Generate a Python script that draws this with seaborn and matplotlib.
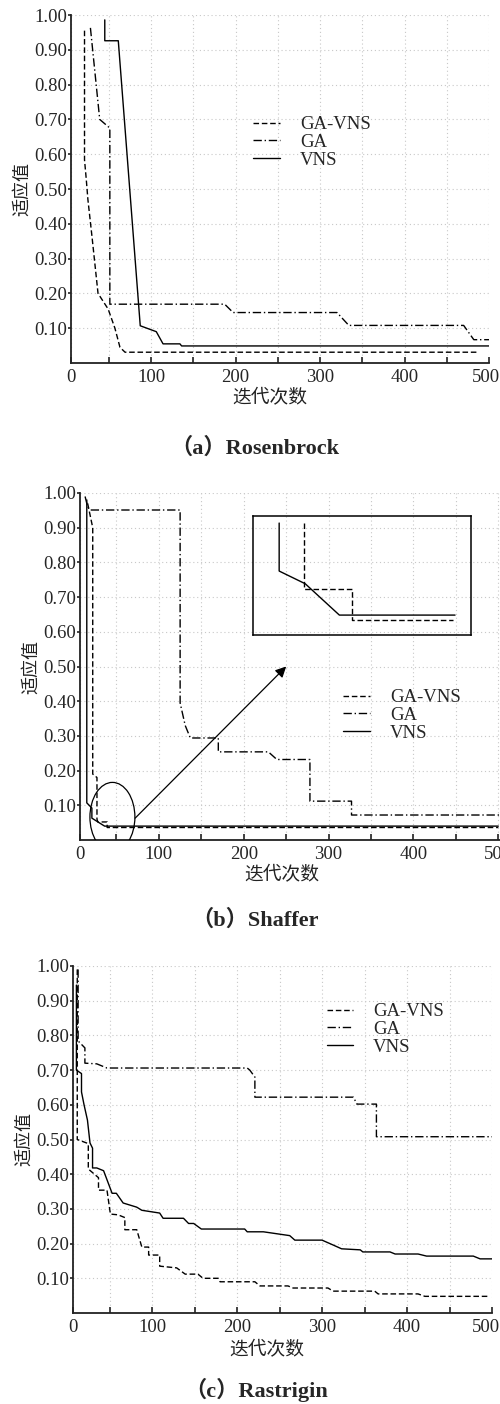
import numpy as np
import pandas as pd
import matplotlib
matplotlib.use("Agg")
import matplotlib.pyplot as plt
import matplotlib.transforms as mtransforms
from matplotlib.patches import Ellipse
import seaborn as sns

# ---------------- data ----------------
series_names = ["GA-VNS", "GA", "VNS"]
ytick_vals = [0.1, 0.2, 0.3, 0.4, 0.5, 0.6, 0.7, 0.8, 0.9, 1.0]
xtick_vals = [50, 100, 150, 200, 250, 300, 350, 400, 450, 500]
ylabel_text = "适应值"
xlabel_text = "迭代次数"
captions = ["（a）Rosenbrock", "（b）Shaffer", "（c）Rastrigin"]

# (a) Rosenbrock
a_gavns_x = [21, 21, 23, 25, 30, 37, 49, 57, 63, 69, 488]
a_gavns_y = [0.955, 0.584, 0.53, 0.47, 0.36, 0.20, 0.155, 0.10, 0.045, 0.031, 0.031]
a_ga_x = [28, 39, 51, 51, 187, 197, 320, 334, 470, 482, 500]
a_ga_y = [0.963, 0.70, 0.675, 0.169, 0.169, 0.145, 0.145, 0.108, 0.108, 0.067, 0.067]
a_vns_x = [45, 45, 61, 87, 106, 114, 134, 136, 500]
a_vns_y = [0.986, 0.926, 0.926, 0.107, 0.09, 0.055, 0.055, 0.049, 0.049]

# (b) Shaffer
b_gavns_x = [16, 22, 22, 27, 27, 28, 39, 39, 500]
b_gavns_y = [0.97, 0.90, 0.19, 0.18, 0.06, 0.052, 0.052, 0.036, 0.036]
b_ga_x = [13, 16, 19, 125, 125, 131, 137, 170, 170, 229, 239, 278, 278, 327, 327, 502]
b_ga_y = [0.99, 0.96, 0.951, 0.951, 0.395, 0.33, 0.294, 0.294, 0.254, 0.254, 0.232,
          0.232, 0.112, 0.112, 0.072, 0.072]
b_vns_x = [15, 15, 21, 21, 34, 36, 500]
b_vns_y = [0.98, 0.107, 0.092, 0.063, 0.043, 0.040, 0.040]
# zoomed detail (inset)
b_zoom_gavns_x = [24.8, 24.8, 34.9, 34.9, 56.2]
b_zoom_gavns_y = [0.0582, 0.0416, 0.0416, 0.0338, 0.0338]
b_zoom_vns_x = [19.5, 19.5, 25.0, 32.2, 56.6]
b_zoom_vns_y = [0.0582, 0.0461, 0.0429, 0.0350, 0.0350]

# (c) Rastrigin
c_gavns_x = [12, 12, 23, 25, 25, 37, 37, 47, 51, 60, 68, 68, 82, 88, 96, 96, 109, 109,
             129, 139, 154, 160, 178, 180, 221, 227, 260, 266, 307, 313, 362, 366, 413,
             421, 496]
c_gavns_y = [0.99, 0.50, 0.49, 0.487, 0.415, 0.39, 0.354, 0.354, 0.285, 0.283, 0.275,
             0.24, 0.24, 0.19, 0.19, 0.167, 0.167, 0.135, 0.13, 0.112, 0.112, 0.10, 0.10,
             0.09, 0.09, 0.078, 0.078, 0.072, 0.072, 0.063, 0.063, 0.055, 0.055, 0.048,
             0.048]
c_ga_x = [13, 13, 21, 21, 35, 47, 212, 215, 221, 221, 337, 341, 364, 364, 500]
c_ga_y = [0.99, 0.784, 0.764, 0.72, 0.718, 0.706, 0.706, 0.70, 0.68, 0.622, 0.622,
          0.602, 0.602, 0.508, 0.508]
c_vns_x = [11, 11, 17, 17, 20, 24, 27, 30, 30, 35, 43, 53, 58, 66, 82, 88, 109, 113, 137,
           143, 149, 158, 209, 212, 231, 262, 268, 300, 313, 323, 345, 348, 380, 386,
           413, 423, 478, 486, 500]
c_vns_y = [0.945, 0.70, 0.69, 0.637, 0.60, 0.556, 0.49, 0.475, 0.418, 0.418, 0.41, 0.345,
           0.345, 0.317, 0.305, 0.296, 0.288, 0.273, 0.273, 0.258, 0.258, 0.242, 0.242,
           0.234, 0.234, 0.223, 0.21, 0.21, 0.196, 0.185, 0.182, 0.176, 0.176, 0.17,
           0.17, 0.164, 0.164, 0.156, 0.156]

# ---------------- style ----------------
sns.set_style("ticks")
SERIF = ["Liberation Serif", "Noto Sans CJK SC", "DejaVu Sans"]
CJK = ["Noto Sans CJK SC", "DejaVu Sans"]
plt.rcParams["font.family"] = SERIF
plt.rcParams["axes.unicode_minus"] = False

W, H = 500, 1404
fig = plt.figure(figsize=(W / 100, H / 100), dpi=100)


def px_axes(l, r, t, b):
    return fig.add_axes([l / W, 1 - b / H, (r - l) / W, (b - t) / H])


STYLES = {
    "GA-VNS": (0, (4, 2)),
    "GA": (0, (6, 2, 1, 2)),
    "VNS": "-",
}
LW = 1.0
TICK_FS = 13.5
LEG_FS = 13.5


def draw(ax, xs, ys, name, label=True):
    df = pd.DataFrame({"x": xs, "y": ys})
    sns.lineplot(data=df, x="x", y="y", ax=ax, color="black", linewidth=LW,
                 linestyle=STYLES[name], sort=False, estimator=None,
                 label=name if label else None)


def setup(ax, xlo, xhi, xlab_pos, leg_anchor, handlelen, last_shift=0):
    ax.set_xlim(xlo, xhi)
    ax.set_ylim(0, 1.0)
    for s in ["top", "right"]:
        ax.spines[s].set_visible(False)
    for s in ["left", "bottom"]:
        ax.spines[s].set_linewidth(1.3)
        ax.spines[s].set_color("#222222")
    ax.set_xticks([xlo] + xtick_vals)
    ax.set_xticklabels(["0"] + [str(v) if v % 100 == 0 else "" for v in xtick_vals],
                       fontsize=TICK_FS)
    ax.set_yticks(ytick_vals)
    ax.set_yticklabels([f"{v:.2f}" for v in ytick_vals], fontsize=TICK_FS)
    ax.tick_params(axis="x", direction="in", length=4.5, width=1.2, pad=4, color="#222222")
    ax.tick_params(axis="y", direction="out", length=2.5, width=1.2, pad=0.5, color="#222222")
    if last_shift:
        lab = ax.get_xticklabels()[-1]
        lab.set_transform(lab.get_transform() +
                          mtransforms.ScaledTranslation(last_shift / 100, 0, fig.dpi_scale_trans))
    ax.grid(True, which="major", linestyle=(0, (1, 2.5)), color="#c8c8c8", linewidth=0.8)
    ax.set_axisbelow(True)
    ax.set_xlabel(xlabel_text, fontsize=13.5, family=CJK, color="#222222")
    ax.xaxis.set_label_coords(*xlab_pos)
    ax.xaxis.label.set_va("center")
    ax.set_ylabel(ylabel_text, fontsize=13, family=CJK, color="#222222", labelpad=2)
    leg = ax.legend(loc="upper left", bbox_to_anchor=leg_anchor,
                    bbox_transform=fig.transFigure, frameon=False, fontsize=LEG_FS,
                    handlelength=handlelen, handletextpad=1.05, labelspacing=0.04,
                    borderpad=0, borderaxespad=0)
    return leg


# ---------- panel (a) ----------
ax1 = px_axes(71, 489, 15, 363)
draw(ax1, a_gavns_x, a_gavns_y, "GA-VNS")
draw(ax1, a_ga_x, a_ga_y, "GA")
draw(ax1, a_vns_x, a_vns_y, "VNS")
setup(ax1, 5, 500, (0.476, -0.10), (253 / W, 1 - 116 / H), 1.45, last_shift=-3)

# ---------- panel (b) ----------
ax2 = px_axes(80, 500, 493, 840)
draw(ax2, b_gavns_x, b_gavns_y, "GA-VNS")
draw(ax2, b_ga_x, b_ga_y, "GA")
draw(ax2, b_vns_x, b_vns_y, "VNS")
setup(ax2, 7, 502, (0.481, -0.10), (343 / W, 1 - 689 / H), 1.45)

ell = Ellipse((45.2, 0.066), 53, 0.20, fill=False, edgecolor="black", linewidth=0.9, zorder=5)
ax2.add_patch(ell)
ax2.annotate("", xy=(250, 0.50), xytext=(72, 0.063),
             arrowprops=dict(arrowstyle="-|>", color="black", lw=0.9, mutation_scale=16,
                             shrinkA=0, shrinkB=0), zorder=6)

ins = ax2.inset_axes([211, 0.591, 257, 0.343], transform=ax2.transData)
draw(ins, b_zoom_gavns_x, b_zoom_gavns_y, "GA-VNS", label=False)
draw(ins, b_zoom_vns_x, b_zoom_vns_y, "VNS", label=False)
ins.set_xlim(14, 60)
ins.set_ylim(0.030, 0.060)
ins.set_xticks([])
ins.set_yticks([])
ins.set_xlabel("")
ins.set_ylabel("")
ins.set_facecolor("none")
for s in ins.spines.values():
    s.set_visible(True)
    s.set_linewidth(1.1)
    s.set_color("black")

# ---------- panel (c) ----------
ax3 = px_axes(73, 492, 966, 1313)
draw(ax3, c_gavns_x, c_gavns_y, "GA-VNS")
draw(ax3, c_ga_x, c_ga_y, "GA")
draw(ax3, c_vns_x, c_vns_y, "VNS")
setup(ax3, 7, 500, (0.463, -0.107), (327 / W, 1 - 1003 / H), 1.4, last_shift=-6)

# ---------- captions ----------
for (cx, cy), txt in zip([(255, 448), (255, 920), (256, 1390)], captions):
    fig.text(cx / W, 1 - cy / H, txt, ha="center", va="center", fontsize=16,
             fontweight="bold", family=SERIF)

fig.savefig("out.png", dpi=100)
